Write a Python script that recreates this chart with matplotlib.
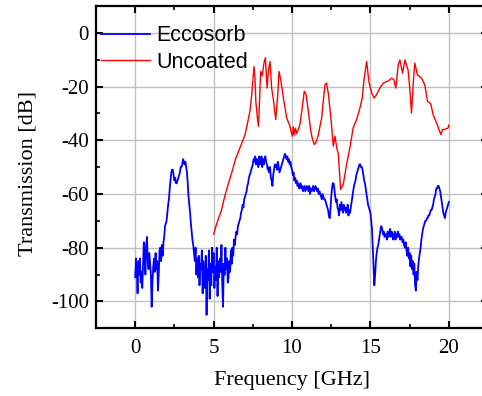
import numpy as np
import matplotlib
matplotlib.use("Agg")
import matplotlib.pyplot as plt
from matplotlib.ticker import MultipleLocator

plt.rcParams['axes.unicode_minus'] = False

# Eccosorb: sampled every 0.05 GHz from 0 to 20 GHz (one row per GHz)
eccosorb = [
    -91, -84, -88, -97, -85, -90, -84, -93, -89, -95, -86, -78, -83, -90, -79, -76, -85, -88, -82, -86,
    -90, -102, -93, -87, -84, -89, -82, -88, -85, -96, -90, -81, -80, -85, -79, -83, -78, -76, -72, -71,
    -70, -67, -64, -62, -58, -55, -52, -51, -51, -53, -55, -54, -56, -56, -55, -54, -53, -52, -50, -50,
    -49, -47, -48, -49, -48, -50, -52, -56, -61, -64, -67, -71, -74, -77, -79, -82, -85, -80, -90, -84,
    -91, -83, -94, -86, -88, -81, -97, -85, -90, -95, -83, -105, -88, -92, -81, -99, -86, -94, -80, -89,
    -82, -95, -87, -92, -80, -98, -85, -91, -84, -89, -79, -93, -102, -86, -90, -80, -88, -84, -93, -91,
    -85, -89, -81, -86, -80, -83, -77, -79, -76, -74, -75, -72, -71, -70, -69, -67, -66, -64, -65, -62,
    -61, -60, -59, -57, -56, -54, -53, -52, -51, -50, -49, -47, -48, -46, -49, -47, -48, -50, -46, -49,
    -48, -46, -50, -47, -49, -47, -46, -48, -49, -51, -50, -52, -50, -54, -55, -57, -53, -51, -49, -50,
    -49, -51, -48, -50, -52, -51, -50, -49, -48, -47, -46, -45, -46, -47, -46, -48, -47, -49, -48, -50,
    -51, -53, -52, -55, -54, -56, -55, -57, -56, -58, -57, -56, -58, -57, -59, -58, -57, -59, -58, -57,
    -58, -59, -57, -60, -58, -59, -58, -57, -59, -58, -57, -58, -59, -58, -60, -59, -60, -61, -62, -60,
    -61, -62, -62, -63, -64, -65, -66, -68, -69, -66, -61, -58, -56, -56, -58, -61, -63, -62, -65, -66,
    -68, -64, -66, -63, -65, -67, -64, -66, -65, -67, -66, -64, -68, -66, -67, -65, -63, -61, -59, -57,
    -56, -55, -53, -52, -51, -50, -49, -49, -50, -50, -51, -53, -55, -56, -58, -60, -62, -64, -65, -66,
    -67, -70, -73, -80, -87, -94, -90, -85, -82, -80, -79, -77, -75, -73, -72, -73, -75, -74, -76, -75,
    -75, -77, -74, -76, -75, -73, -76, -74, -75, -77, -76, -74, -77, -75, -76, -74, -76, -75, -77, -76,
    -76, -78, -77, -79, -80, -78, -81, -83, -80, -84, -82, -87, -83, -88, -85, -90, -86, -94, -96, -89,
    -92, -87, -84, -82, -80, -77, -75, -73, -72, -71, -70, -70, -69, -69, -68, -68, -67, -66, -66, -65,
    -64, -62, -61, -60, -58, -58, -57, -57, -58, -59, -61, -63, -65, -67, -68, -69, -67, -66, -65, -64,
    -63,
]
freq_ecc = np.linspace(0, 20, len(eccosorb))

freq_unc = [5.0, 5.2, 5.5, 5.75, 6.0, 6.16, 6.4, 6.6, 6.8, 7.0, 7.15, 7.32, 7.43, 7.5, 7.58,
            7.64, 7.69, 7.78, 7.86, 7.93, 8.0, 8.1, 8.21, 8.3, 8.41, 8.5, 8.6, 8.7, 8.8, 8.96,
            9.09, 9.17, 9.3, 9.45, 9.66, 9.87, 9.95, 10.02, 10.08, 10.15, 10.22, 10.3, 10.4,
            10.5, 10.65, 10.78, 10.9, 11.04, 11.2, 11.3, 11.42, 11.55, 11.68, 11.89, 12.0, 12.1,
            12.2, 12.31, 12.48, 12.63, 12.74, 12.85, 12.95, 13.1, 13.27, 13.48, 13.69, 13.9,
            14.12, 14.33, 14.48, 14.6, 14.76, 14.9, 15.08, 15.24, 15.39, 15.6, 15.82, 16.14,
            16.35, 16.5, 16.62, 16.77, 16.88, 17.05, 17.2, 17.4, 17.5, 17.62, 17.75, 17.83,
            18.0, 18.26, 18.47, 18.64, 18.85, 19.0, 19.22, 19.49, 19.6, 19.7, 19.96, 20.0]
uncoated = [-75, -71, -66, -60, -55, -52, -47, -44, -41, -38, -34, -29, -23, -18, -12.6,
            -17, -25.5, -31, -34.8, -25, -14.4, -16, -11.3, -9.3, -20.6, -13.8, -10.7, -20.6,
            -24.3, -32.3, -23, -14.4, -18.1, -24.3, -31.7, -34.8, -37, -38.5, -35, -38, -35.5,
            -37.5, -36, -34.2, -28, -21.8, -23, -29.3, -36.7, -39.5, -41.6, -40.5, -37.9, -31.7,
            -25, -19.4, -18.7, -22.4, -31.7, -42.2, -38.5, -42.8, -45, -58.3, -56.4, -49, -42.8,
            -35.4, -32.3, -28, -24.3, -16.9, -10.7, -18.1, -22.4, -24.3, -23, -20.6, -18.7,
            -17.9, -16.9, -17.5, -20.6, -12, -10.1, -15, -10.1, -13.8, -20, -29.9, -17, -11.3,
            -15.7, -16.9, -19.4, -25.5, -26.5, -30.5, -33.6, -37.9, -36, -36, -35.4, -34.4]

serif = ['Liberation Serif', 'DejaVu Serif']

fig = plt.figure(figsize=(4.82, 3.96), dpi=100)
ax = fig.add_axes([0.1992, 0.171, 0.8133, 0.814])

ax.plot(freq_ecc, eccosorb, color='#0000ff', lw=1.3, label='Eccosorb')
ax.plot(freq_unc, uncoated, color='#ff0000', lw=1.0, label='Uncoated')

ax.set_xlim(-2.5, 22.5)
ax.set_ylim(-110, 10)
ax.xaxis.set_major_locator(MultipleLocator(5))
ax.xaxis.set_minor_locator(MultipleLocator(2.5))
ax.yaxis.set_major_locator(MultipleLocator(20))
ax.yaxis.set_minor_locator(MultipleLocator(10))
ax.grid(True, which='major', color='#c0c0c0', lw=1.0)
ax.set_axisbelow(True)

ax.tick_params(which='both', direction='in', top=True, right=True)
ax.tick_params(axis='x', pad=8)
ax.tick_params(axis='y', pad=5)
ax.tick_params(which='major', length=5, width=1.5)
ax.tick_params(which='minor', length=3, width=1.2)
for sp in ax.spines.values():
    sp.set_linewidth(1.6)

for lab in ax.get_xticklabels() + ax.get_yticklabels():
    lab.set_family(serif)
    lab.set_fontsize(15)

ax.set_xlabel('Frequency [GHz]', family=serif, fontsize=16, labelpad=9)
ax.set_ylabel('Transmission [dB]', family=serif, fontsize=16, labelpad=6)
ax.yaxis.set_label_coords(-0.15, 0.48)

leg = ax.legend(loc='upper left', bbox_to_anchor=(0.012, 0.94), frameon=False,
                borderpad=0, borderaxespad=0, handlelength=2.3, handletextpad=0.3,
                labelspacing=0.25, prop={'family': ['Liberation Sans', 'DejaVu Sans'], 'size': 15.5})

fig.savefig('out.png', dpi=100)
